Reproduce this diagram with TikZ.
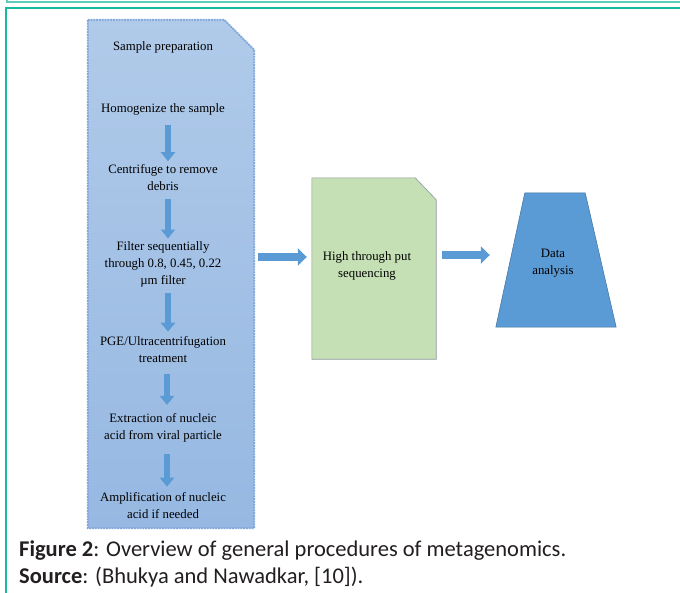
\documentclass[tikz,border=0pt]{standalone}
\usepackage{fontspec}
\setmainfont{Liberation Serif}
\newfontfamily\capfont{Carlito}
\usetikzlibrary{arrows.meta,shapes.geometric,calc}

\definecolor{frameA}{RGB}{94,204,184}
\definecolor{frameB}{RGB}{22,186,156}
\definecolor{boxblueT}{RGB}{176,202,233}
\definecolor{boxblueB}{RGB}{150,184,226}
\definecolor{boxedge}{RGB}{120,160,215}
\definecolor{arrowblue}{RGB}{91,155,213}
\definecolor{arrowedge}{RGB}{65,113,156}
\definecolor{greenfill}{RGB}{197,224,180}
\definecolor{greenedge}{RGB}{140,150,160}
\definecolor{captext}{RGB}{35,31,32}

\begin{document}
\begin{tikzpicture}[x=1pt,y=-1pt,
  steptext/.style={font=\fontsize{12.8}{17}\selectfont, align=center, inner sep=0pt},
  downarrow/.style={draw=arrowblue, line width=6.5pt, -{Triangle[length=9pt,width=14pt]}},
  rightarrow/.style={draw=arrowblue, line width=8pt, -{Triangle[length=9pt,width=17pt]}},
  captxt/.style={anchor=base west, inner sep=0pt, text=captext, font=\capfont\fontsize{22.5}{26}\selectfont},
]
\useasboundingbox (0,0) rectangle (680,592);
\fill[white] (0,0) rectangle (680,592);
% frame
\draw[frameA, line width=2pt] (7,-1) -- (7,2) -- (681,2);
\draw[frameB, line width=1.6pt] (6,593) -- (6,8) -- (681,8);

% blue panel
\node (panel) [minimum width=166pt, minimum height=508pt, inner sep=0pt] at (171,274) {};
\shade[top color=boxblueT, bottom color=boxblueB] (panel.north west) -- ([xshift=-30pt]panel.north east) -- ([yshift=-30pt]panel.north east) -- (panel.south east) -- (panel.south west) -- cycle;
\draw[boxedge, line width=1.8pt, densely dotted] (panel.north west) -- ([xshift=-30pt]panel.north east) -- ([yshift=-30pt]panel.north east) -- (panel.south east) -- (panel.south west) -- cycle;
\draw[boxedge!80!white, line width=0.5pt] (panel.north west) -- ([xshift=-30pt]panel.north east) -- ([yshift=-30pt]panel.north east) -- (panel.south east) -- (panel.south west) -- cycle;

\node[steptext] (s0) at (163,47) {Sample preparation};
\node[steptext] (s1) at (163,109) {Homogenize the sample};
\node[steptext] (s2) at (163,178) {Centrifuge to remove\\debris};
\node[steptext] (s3) at (163,264) {Filter sequentially\\through 0.8, 0.45, 0.22\\µm filter};
\node[steptext] (s4) at (163,349.5) {PGE/Ultracentrifugation\\treatment};
\node[steptext] (s5) at (163,428) {Extraction of nucleic\\acid from viral particle};
\node[steptext] (s6) at (163,505.5) {Amplification of nucleic\\acid if needed};

\draw[downarrow, shorten <=10pt, shorten >=3.5pt] ([xshift=5pt]s1.south) -- ([xshift=5pt]s2.north);
\draw[downarrow, shorten <=8pt, shorten >=2.5pt] ([xshift=5pt]s2.south) -- ([xshift=5pt]s3.north);
\draw[downarrow, shorten <=6pt, shorten >=4.5pt] ([xshift=5pt]s3.south) -- ([xshift=5pt]s4.north);
\draw[downarrow, shorten <=11pt, shorten >=8.5pt] ([xshift=4pt]s4.south) -- ([xshift=4pt]s5.north);
\draw[downarrow, shorten <=11pt, shorten >=5.5pt] ([xshift=4pt]s5.south) -- ([xshift=4pt]s6.north);

% green box
\node (hts) [minimum width=124pt, minimum height=181pt, inner sep=0pt] at (374,268.5) {};
\filldraw[fill=greenfill, draw=greenedge, line width=0.6pt] (hts.north west) -- ([xshift=-21pt]hts.north east) -- ([yshift=-22pt]hts.north east) -- (hts.south east) -- (hts.south west) -- cycle;
\node[steptext] (htst) at (367,265.5) {High through put\\sequencing};

% trapezoid
\node (da) [minimum width=120pt, minimum height=134pt, inner sep=0pt] at (556,260) {};
\filldraw[fill=arrowblue, draw=arrowedge, line width=0.5pt] ([xshift=29pt]da.north west) -- ([xshift=-31pt]da.north east) -- (da.south east) -- (da.south west) -- cycle;
\node[steptext] (dat) at (553,263.5) {Data\\analysis};

% horizontal arrows
\draw[rightarrow, shorten <=4pt, shorten >=5pt] ($(panel.east)+(0,-17)$) -- ($(hts.west)+(0,-11.5)$);
\draw[rightarrow, shorten <=6pt, shorten >=6pt] ($(hts.east)+(0,-13.5)$) -- ($(da.west)+(0,-5)$);

% caption
\node[captxt] (cap1) at (19,556) {\textbf{Figure 2}: Overview of general procedures of metagenomics.};
\node[captxt] (cap2) at (19,583) {\textbf{Source}: (Bhukya and Nawadkar, [10]).};
\end{tikzpicture}
\end{document}
